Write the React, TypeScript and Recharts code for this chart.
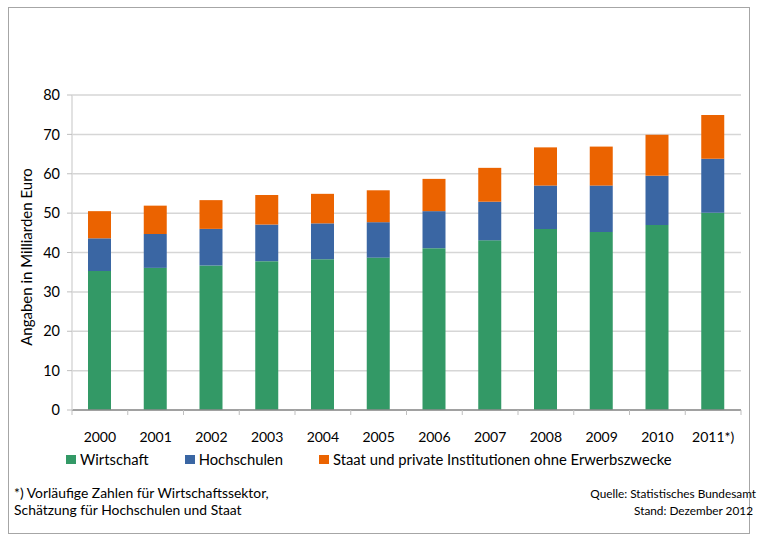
import React from 'react';
import { BarChart, Bar, XAxis, YAxis, CartesianGrid } from 'recharts';

const years = ['2000', '2001', '2002', '2003', '2004', '2005', '2006', '2007', '2008', '2009', '2010', '2011*)'];
const wirtschaft = [35.3, 36.1, 36.7, 37.8, 38.3, 38.7, 41.1, 43.1, 46.0, 45.2, 47.0, 50.1];
const hochschulen = [8.3, 8.6, 9.3, 9.3, 9.1, 9.0, 9.4, 9.8, 11.0, 11.8, 12.5, 13.7];
const staat = [6.9, 7.2, 7.3, 7.5, 7.5, 8.1, 8.2, 8.6, 9.7, 9.9, 10.4, 11.1];
const yTicks = [0, 10, 20, 30, 40, 50, 60, 70, 80];

const seriesNames = ['Wirtschaft', 'Hochschulen', 'Staat und private Institutionen ohne Erwerbszwecke'];
const seriesKeys = ['w', 'h', 's'];
const colors = ['#339966', '#3a66a3', '#eb6300'];

const data = years.map((y, i) => ({ year: y, w: wirtschaft[i], h: hochschulen[i], s: staat[i] }));

const W = 758;
const H = 534;
const M = { top: 95, right: 17, left: 0, bottom: 94 };
const Y_AXIS_W = 72;
const X_AXIS_H = 30;
const PLOT_W = W - M.left - M.right - Y_AXIS_W;
const BAND = PLOT_W / years.length;
const FONT = 'Lato, "Open Sans", sans-serif';

const XTick = (props: any) => {
  const { x, y, payload, index } = props;
  const half = BAND / 2;
  return (
    <g>
      <line x1={x - half} x2={x - half} y1={y} y2={y + 5} stroke="#bfbfbf" strokeWidth={1} />
      {index === years.length - 1 && (
        <line x1={x + half} x2={x + half} y1={y} y2={y + 5} stroke="#bfbfbf" strokeWidth={1} />
      )}
      <text x={x} y={y + 32} textAnchor="middle" fontSize={14} fill="#000" fontFamily={FONT}>
        {payload.value}
      </text>
    </g>
  );
};

export default function App() {
  return (
    <div style={{ position: 'absolute', left: 0, top: 0, width: W, height: H, background: '#fff', fontFamily: FONT }}>
      <div
        style={{
          position: 'absolute',
          left: 8,
          top: 7,
          width: 742,
          height: 527,
          border: '1px solid #a6a6a6',
          boxSizing: 'border-box',
        }}
      />
      <div style={{ position: 'absolute', left: 0, top: 0 }}>
        <BarChart width={W} height={H} data={data} margin={M} barSize={23}>
          <CartesianGrid vertical={false} stroke="#d6d6d6" strokeWidth={1.5} />
          <XAxis
            dataKey="year"
            height={X_AXIS_H}
            tickSize={0}
            tickMargin={0}
            tickLine={false}
            axisLine={{ stroke: '#8c8c8c', strokeWidth: 1.5 }}
            tick={<XTick />}
            interval={0}
          />
          <YAxis
            width={Y_AXIS_W}
            domain={[0, 80]}
            ticks={yTicks}
            tickSize={5}
            tickMargin={7}
            tickLine={{ stroke: '#bfbfbf' }}
            axisLine={{ stroke: '#d9d9d9', strokeWidth: 1.5 }}
            tick={{ fill: '#000', fontSize: 14.5, fontFamily: FONT }}
          />
          {seriesKeys.map((k, i) => (
            <Bar key={k} dataKey={k} name={seriesNames[i]} stackId="a" fill={colors[i]} isAnimationActive={false} />
          ))}
        </BarChart>
      </div>
      <div
        style={{
          position: 'absolute',
          left: 26,
          top: 257,
          transform: 'translate(-50%, -50%) rotate(-90deg)',
          whiteSpace: 'nowrap',
          fontSize: 15,
          color: '#000',
        }}
      >
        Angaben in Milliarden Euro
      </div>
      <div
        style={{
          position: 'absolute',
          left: 66,
          top: 450,
          height: 18,
          display: 'flex',
          alignItems: 'center',
          gap: 36,
          fontSize: 14.8,
          whiteSpace: 'nowrap',
        }}
      >
        {seriesNames.map((n, i) => (
          <div key={n} style={{ display: 'flex', alignItems: 'center' }}>
            <span style={{ display: 'inline-block', width: 10, height: 9, background: colors[i], marginRight: 4 }} />
            <span>{n}</span>
          </div>
        ))}
      </div>
      <div style={{ position: 'absolute', left: 14, top: 484, fontSize: 13.9, lineHeight: '17px', whiteSpace: 'nowrap' }}>
        <div>*) Vorläufige Zahlen für Wirtschaftssektor,</div>
        <div>Schätzung für Hochschulen und Staat</div>
      </div>
      <div
        style={{
          position: 'absolute',
          right: W - 756,
          top: 485,
          fontSize: 11.8,
          lineHeight: '17px',
          textAlign: 'right',
          whiteSpace: 'nowrap',
        }}
      >
        <div>Quelle: Statistisches Bundesamt</div>
        <div style={{ marginRight: 3 }}>Stand: Dezember 2012</div>
      </div>
    </div>
  );
}
